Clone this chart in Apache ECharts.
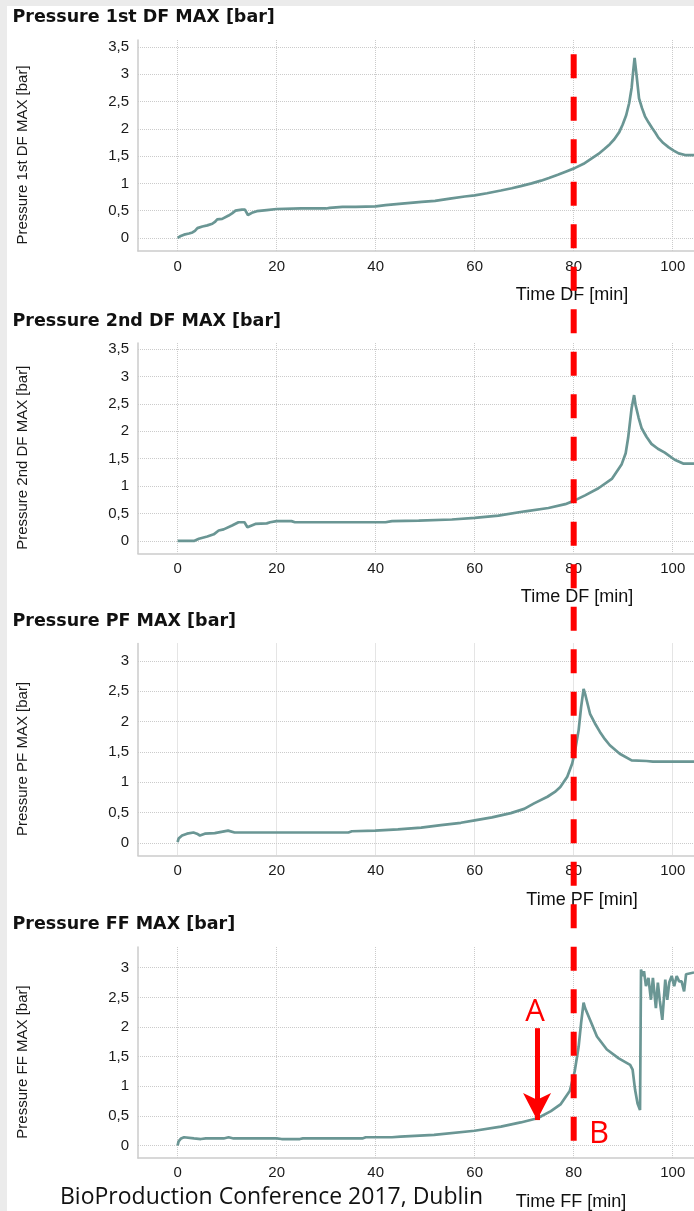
<!DOCTYPE html>
<html><head><meta charset="utf-8">
<script src="https://cdn.jsdelivr.net/npm/echarts@6/dist/echarts.min.js"></script>
<style>html,body{margin:0;padding:0;background:#fff}#c{width:694px;height:1211px}</style>
</head><body><div id="c"></div><script>
// ---- data ----
const panelTitles = ['Pressure 1st DF MAX [bar]', 'Pressure 2nd DF MAX [bar]', 'Pressure PF MAX [bar]', 'Pressure FF MAX [bar]'];
const yNames = ['Pressure 1st DF MAX [bar]', 'Pressure 2nd DF MAX [bar]', 'Pressure PF MAX [bar]', 'Pressure FF MAX [bar]'];
const xNames = ['Time DF [min]', 'Time DF [min]', 'Time PF [min]', 'Time FF [min]'];
const footerText = 'BioProduction Conference 2017, Dublin';

const df1Time = [0,0.5,1.3,2.3,3,3.5,4,5,6,7,7.6,8,9,10.3,11,11.7,12.3,13,13.6,14,14.2,15,16,18,20,25,30,30.7,33.3,36,40,42,45.3,49.3,52,55,58,60,62.5,65.3,67.5,69.3,71.5,73.4,75,76.8,78.5,80.2,82,83.5,85,86.2,87.3,88.2,89.2,89.9,90.6,91.2,91.7,92,92.3,92.7,93.2,93.8,94.4,95.1,95.8,96.5,97.1,98.1,99.2,100.2,101.2,102.5,104.3];
const df1Pressure = [0,0.03,0.06,0.08,0.10,0.13,0.18,0.21,0.23,0.26,0.30,0.34,0.35,0.41,0.45,0.50,0.51,0.52,0.52,0.49,0.42,0.46,0.49,0.51,0.53,0.54,0.54,0.55,0.57,0.57,0.58,0.60,0.63,0.66,0.68,0.72,0.76,0.78,0.82,0.87,0.91,0.95,1.00,1.05,1.10,1.16,1.22,1.28,1.36,1.45,1.54,1.63,1.72,1.81,1.94,2.08,2.25,2.47,2.75,3.04,3.30,2.98,2.56,2.38,2.23,2.12,2.02,1.93,1.84,1.74,1.66,1.60,1.55,1.52,1.52];

const df2Time = [0,3.3,4.3,6,7.3,8.3,9.3,11,12.3,13.5,14.1,15.7,18,18.7,20,23,23.7,30,40,42,43.3,48.7,55.4,60,64.8,70.2,74.9,78.3,80,82.3,85,87.7,89.7,90.5,91,91.7,92.2,92.5,93.1,93.7,94.7,95.7,97,98.4,100.4,102.1,104.3];
const df2Pressure = [0,0,0.04,0.08,0.12,0.19,0.21,0.28,0.34,0.34,0.25,0.31,0.32,0.34,0.36,0.36,0.34,0.34,0.34,0.34,0.36,0.37,0.39,0.42,0.46,0.54,0.60,0.67,0.73,0.83,0.96,1.13,1.40,1.60,1.88,2.42,2.66,2.48,2.25,2.06,1.90,1.77,1.68,1.61,1.48,1.41,1.41];

const pfTime = [0,0.2,0.9,1.9,3.2,3.9,4.5,5.5,7.5,10.2,11.5,15.2,25,34.5,35.2,39.9,44.5,49.2,53.2,57.2,60,63.5,67.3,70,72,74.7,76.2,77.3,78.7,79.7,80.3,81,81.5,82,82.3,83.3,84.3,85.3,86.3,87.3,89.3,91.7,94.7,96,104.3];
const pfPressure = [0.01,0.07,0.12,0.15,0.17,0.15,0.12,0.15,0.16,0.20,0.17,0.17,0.17,0.17,0.19,0.20,0.22,0.25,0.29,0.33,0.37,0.42,0.49,0.56,0.65,0.76,0.84,0.92,1.09,1.31,1.53,1.86,2.24,2.54,2.46,2.13,1.97,1.83,1.71,1.61,1.47,1.36,1.35,1.34,1.34];

const ffTime = [0,0.2,0.7,1.3,3.3,4.7,5.7,9.3,10.3,11.3,20,21,24.7,25.3,37.3,38,43.3,45,51.8,60,65.3,69.3,72.7,75.4,77.4,79.2,80.2,81,81.5,82,82.3,83.4,84.7,86.7,89.1,91.4,91.9,92.4,92.9,93.4,93.6,93.9,94.2,94.6,95.1,95.6,96,96.6,97,97.4,97.9,98.5,98.9,99.3,99.8,100.3,100.8,101.3,101.8,102.3,102.7,104.3];
const ffPressure = [0,0.07,0.12,0.14,0.12,0.11,0.12,0.12,0.14,0.12,0.12,0.11,0.11,0.12,0.12,0.14,0.14,0.15,0.18,0.25,0.32,0.39,0.46,0.58,0.70,0.92,1.25,1.67,2.07,2.41,2.32,2.10,1.84,1.62,1.47,1.36,1.28,0.94,0.71,0.60,2.97,2.86,2.94,2.69,2.83,2.46,2.83,2.32,2.75,2.44,2.12,2.80,2.46,2.75,2.86,2.69,2.86,2.77,2.77,2.60,2.89,2.92];

const yMins = [-0.24, -0.23, -0.21, -0.21];
const yMaxs = [3.63, 3.61, 3.29, 3.35];
const xMin = -8, xMax = 104.3, xStep = 20, yStep = 0.5;

// annotation data
const markerTime = 80;          // vertical dashed marker
const markerTopValue = 3.37;    // in panel 1 units
const markerBottomValue = 0.06; // in panel 4 units
const arrowTime = 72.6, arrowFrom = 1.98, arrowTo = 0.43; // "A" arrow in panel 4 (tip on the curve)

// ---- layout ----
const grids = [
  {left:138, right:0, top:40, height:211},
  {left:138, right:0, top:343, height:210.5},
  {left:138, right:0, top:643.5, height:212},
  {left:138, right:0, top:947, height:211}
];
const titleY = [17.5, 321, 621, 924.5];
const xNamePos = [[572,295],[577,597],[582,900],[571,1202]];
const arrowHead = [21, 27];

const lineColor = '#6a9694';
const gridColor = '#cbcbcb';
const seriesData = [
  df1Time.map((t,i)=>[t, df1Pressure[i]]),
  df2Time.map((t,i)=>[t, df2Pressure[i]]),
  pfTime.map((t,i)=>[t, pfPressure[i]]),
  ffTime.map((t,i)=>[t, ffPressure[i]])
];

const fmt = v => String(v).replace('.', ',');

const xAxes = grids.map((g,i)=>({
  type:'value', gridIndex:i, min:xMin, max:xMax, minInterval:xStep, maxInterval:xStep,
  axisLine:{show:true, onZero:false, lineStyle:{color:gridColor, width:1.5}},
  axisTick:{show:false},
  axisLabel:{color:'#1a1a1a', fontSize:15, fontFamily:'Liberation Sans', margin:i===3?7:8, showMinLabel:false, showMaxLabel:false},
  splitLine:{show:true, showMinLine:false, showMaxLine:false, lineStyle:{type:'dotted', color:gridColor, width:1}}
}));
const yAxes = grids.map((g,i)=>({
  type:'value', gridIndex:i, min:yMins[i], max:yMaxs[i], minInterval:yStep, maxInterval:yStep,
  name:yNames[i], nameLocation:'middle', nameRotate:90, nameGap:108,
  nameTextStyle:{fontSize:15, color:'#1a1a1a', fontFamily:'Liberation Sans', padding:[0,19,0,0]},
  axisLine:{show:true, onZero:false, lineStyle:{color:gridColor, width:1.5}},
  axisTick:{show:false},
  axisLabel:{color:'#1a1a1a', fontSize:15, fontFamily:'Liberation Sans', margin:9, formatter:fmt, showMinLabel:false, showMaxLabel:false},
  splitLine:{show:true, showMinLine:false, showMaxLine:false, lineStyle:{type:'dotted', color:gridColor, width:1}}
}));

const titles = [];
panelTitles.forEach((t,i)=>titles.push({text:t, left:12.5, top:titleY[i], padding:0, textAlign:'left', textVerticalAlign:'middle',
  textStyle:{fontSize:17.5, fontWeight:'bold', color:'#111', fontFamily:'DejaVu Sans'}}));
xNames.forEach((t,i)=>titles.push({text:t, left:xNamePos[i][0], top:xNamePos[i][1], padding:0, textAlign:'center', textVerticalAlign:'middle',
  textStyle:{fontSize:18, fontWeight:'normal', color:'#111', fontFamily:'Liberation Sans'}}));
titles.push({text:footerText, left:60, top:1197, padding:0, textAlign:'left', textVerticalAlign:'middle',
  textStyle:{fontSize:23, fontWeight:'normal', color:'#111', fontFamily:'Open Sans'}});
titles.push({text:'A', left:535, top:1012, padding:0, textAlign:'center', textVerticalAlign:'middle',
  textStyle:{fontSize:31, fontWeight:'normal', color:'#ff0000', fontFamily:'Open Sans'}});
titles.push({text:'B', left:599, top:1134, padding:0, textAlign:'center', textVerticalAlign:'middle',
  textStyle:{fontSize:31, fontWeight:'normal', color:'#ff0000', fontFamily:'Open Sans'}});

const series = seriesData.map((d,i)=>({
  type:'line', xAxisIndex:i, yAxisIndex:i, data:d, showSymbol:false, symbol:'none',
  lineStyle:{color:lineColor, width:2.7}, itemStyle:{color:lineColor}, animation:false, z:3
}));
// arrow "A": tip of the arrowhead lands on the curve point
series[3].markLine = {
  silent:true, animation:false, symbol:['none','arrow'], symbolSize:arrowHead,
  lineStyle:{color:'#ff0000', width:5, type:'solid', opacity:1}, label:{show:false},
  data:[[{coord:[arrowTime, arrowFrom]}, {coord:[arrowTime, arrowTo]}]]
};

const chart = echarts.init(document.getElementById('c'), null, {renderer:'canvas'});
chart.setOption({
  backgroundColor:'#ffffff', animation:false,
  title:titles, grid:grids, xAxis:xAxes, yAxis:yAxes, series:series,
  graphic:[
    {id:'bandL', type:'rect', shape:{x:0,y:0,width:7,height:1211}, style:{fill:'#ebebeb'}, z:-1, silent:true},
    {id:'bandT', type:'rect', shape:{x:0,y:0,width:694,height:6}, style:{fill:'#ebebeb'}, z:-1, silent:true}
  ]
});

const mx = chart.convertToPixel({xAxisIndex:0}, markerTime);
const my1 = chart.convertToPixel({yAxisIndex:0}, markerTopValue);
const my2 = chart.convertToPixel({yAxisIndex:3}, markerBottomValue);
chart.setOption({graphic:[
  {id:'marker', type:'line', shape:{x1:mx, y1:my1, x2:mx, y2:my2}, z:100, silent:true,
   style:{stroke:'#ff0000', lineWidth:6, lineDash:[24,18.5], lineCap:'butt'}}
]});
</script></body></html>
